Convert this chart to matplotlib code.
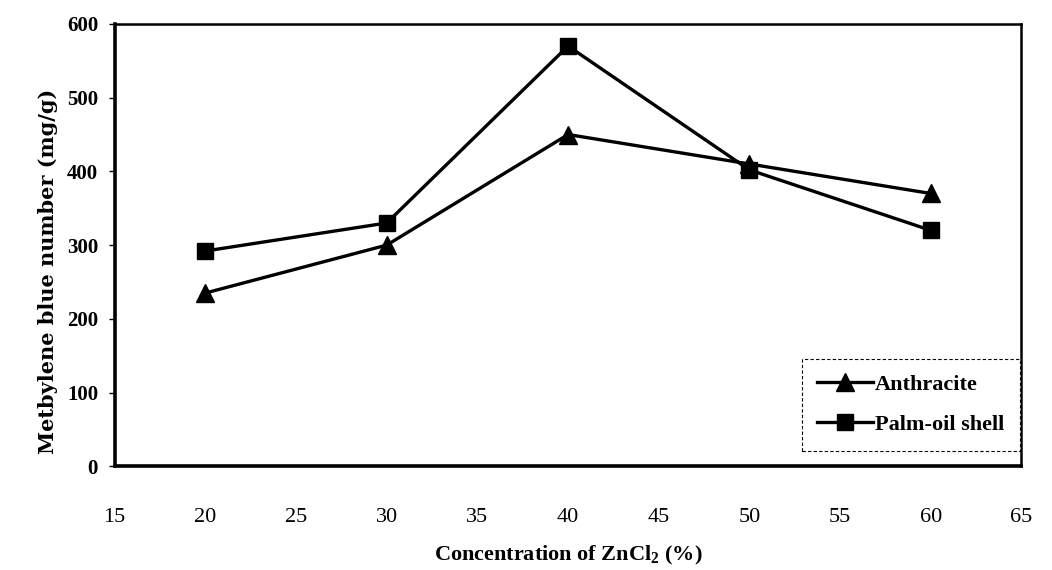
import matplotlib
matplotlib.use("Agg")
import matplotlib.pyplot as plt

# data
conc = [20, 30, 40, 50, 60]
anthracite = [235, 300, 450, 410, 370]
palm_shell = [292, 330, 570, 402, 320]

x_ticks = [15, 20, 25, 30, 35, 40, 45, 50, 55, 60, 65]
y_ticks = [0, 100, 200, 300, 400, 500, 600]

plt.rcParams['font.family'] = ['Liberation Serif', 'DejaVu Serif']
plt.rcParams['font.weight'] = 'bold'
plt.rcParams['mathtext.fontset'] = 'custom'
plt.rcParams['mathtext.rm'] = 'Liberation Serif:bold'
plt.rcParams['mathtext.bf'] = 'Liberation Serif:bold'
plt.rcParams['mathtext.default'] = 'bf'

fig = plt.figure(figsize=(10.52, 5.70), dpi=100)
ax = fig.add_axes([0.109, 0.182, 0.862, 0.776])

ax.plot(conc, anthracite, color='black', lw=2.4, marker='^', ms=12.5,
        label='Anthracite')
ax.plot(conc, palm_shell, color='black', lw=2.4, marker='s', ms=11,
        label='Palm-oil shell')

ax.set_xlim(15, 65)
ax.set_ylim(0, 600)
ax.set_xticks(x_ticks)
ax.set_yticks(y_ticks)
ax.tick_params(axis='x', length=0, pad=30, labelsize=16)
ax.tick_params(axis='y', length=4, width=1, direction='out', pad=8,
               labelsize=15)
for lab in ax.get_xticklabels():
    lab.set_fontweight('normal')
for lab in ax.get_yticklabels():
    lab.set_fontweight('bold')

ax.spines['left'].set_linewidth(2.6)
ax.spines['bottom'].set_linewidth(2.6)
ax.spines['top'].set_linewidth(1.8)
ax.spines['right'].set_linewidth(1.8)

ax.set_xlabel('Concentration of ZnCl$_2$ (%)', fontsize=16,
              fontweight='bold', labelpad=12)
ax.set_ylabel('Metbylene blue number (mg/g)', fontsize=15,
              fontweight='bold', family=['DejaVu Serif'])
ax.yaxis.set_label_coords(-0.062, 0.44)

leg = ax.legend(loc='lower right', bbox_to_anchor=(1.003, 0.025),
                fontsize=16, frameon=True, fancybox=False,
                handlelength=2.5, handletextpad=0.1, labelspacing=0.9,
                borderpad=0.7, borderaxespad=0.2)
frame = leg.get_frame()
frame.set_edgecolor('black')
frame.set_linewidth(0.8)
frame.set_linestyle((0, (3, 2)))
frame.set_alpha(1)

fig.savefig('out.png', dpi=100)
